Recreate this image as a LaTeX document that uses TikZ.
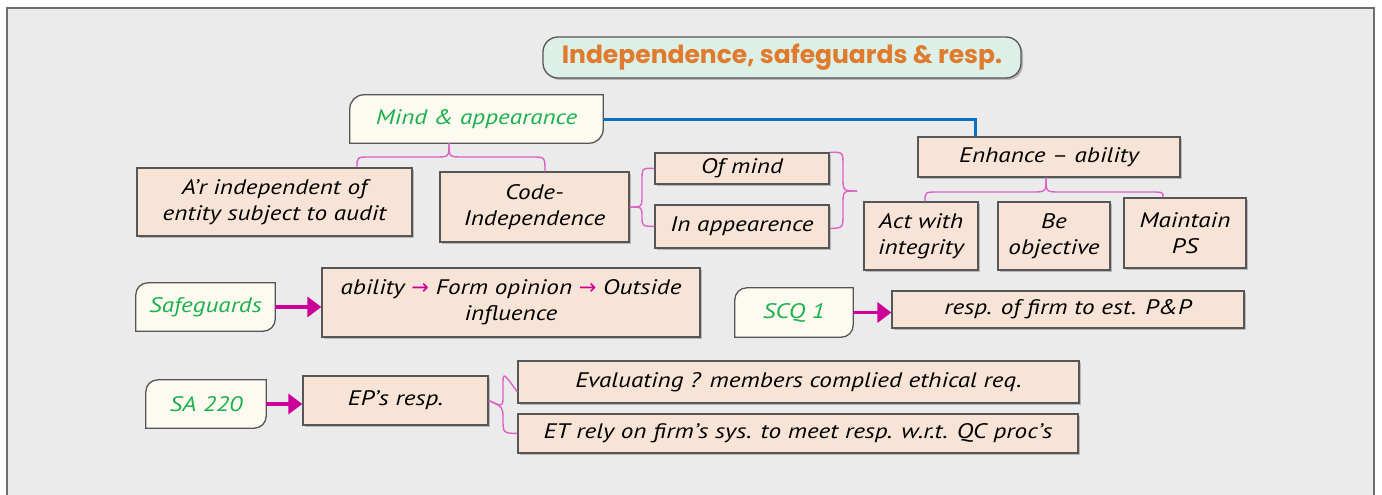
\documentclass[tikz,border=0pt]{standalone}
\usepackage{fontspec}
\setmainfont{PT Sans}
\newfontfamily\hand[FakeStretch=1.2]{PT Sans}
\newfontfamily\titlefont{Poppins}
\newfontfamily\arrowfont{DejaVu Sans}
\usetikzlibrary{shadows,arrows.meta,calc}
\definecolor{bgc}{HTML}{EBEBEB}
\definecolor{framec}{HTML}{6E6E6E}
\definecolor{peach}{HTML}{F8E4D7}
\definecolor{cream}{HTML}{FDFBF0}
\definecolor{greentx}{HTML}{1DB04E}
\definecolor{bordc}{HTML}{565656}
\definecolor{bracec}{HTML}{DD62C6}
\definecolor{magc}{HTML}{CC0099}
\definecolor{bluec}{HTML}{0A70C2}
\definecolor{titlefill}{HTML}{DDF0E8}
\definecolor{orangetx}{HTML}{E07A2C}
\pgfdeclarelayer{back}
\pgfdeclarelayer{mid}
\pgfsetlayers{back,mid,main}
\begin{document}
\begin{tikzpicture}[x=1pt,y=-1pt,
  sz/.style 2 args={minimum width=#1, minimum height=#2},
  peachbox/.style={draw=bordc, line width=1.3pt, fill=peach, inner sep=0pt, align=center,
    font=\hand\itshape\fontsize{21}{26}\selectfont,
    drop shadow={shadow xshift=2pt, shadow yshift=-2pt, opacity=0.22, fill=black}},
  creamtext/.style={inner sep=0pt, align=center, text=greentx,
    font=\hand\itshape\fontsize{21}{26}\selectfont},
  creamshape/.style={draw=bordc, line width=1.3pt, fill=cream},
  creamshadow/.style={fill=black, opacity=0.22, draw=none},
  titlebox/.style={draw=bordc, line width=1.3pt, fill=titlefill, rounded corners=15pt,
    inner sep=0pt, text=orangetx, font=\titlefont\bfseries\fontsize{25}{30}\selectfont,
    drop shadow={shadow xshift=2pt, shadow yshift=-2pt, opacity=0.22, fill=black}},
  bracel/.style={draw=bracec, line width=1.4pt},
  magarrow/.style={draw=magc, line width=3.5pt, -{Triangle[length=14pt,width=20pt]}, fill=magc},
  blueline/.style={draw=bluec, line width=3pt},
]
\useasboundingbox (0,0) rectangle (1382,495);
\begin{pgfonlayer}{back}
\fill[white] (0,0) rectangle (1382,495);
\draw[fill=bgc, draw=framec, line width=2pt] (7,8) rectangle (1374,520);
\end{pgfonlayer}

% title
\node[titlebox, sz={478}{41}] (title) at (782,57.5) {Independence, safeguards \& resp.};

% cream boxes (text nodes; shapes drawn on mid layer)
\node[creamtext, sz={253}{48}] (mind) at (476.5,119) {Mind \& appearance};
\node[creamtext, sz={139}{48}] (safe) at (205.5,307) {Safeguards};
\node[creamtext, sz={118}{49}] (scq) at (794,312.5) {SCQ 1};
\node[creamtext, sz={120}{48}] (sa) at (206,404) {SA 220};

\newcommand\creamshp[3]{% name, radius, style
  \path[#3] (#1.south west) -- ([yshift=-#2]#1.north west)
    arc[start angle=180,end angle=90,radius=#2] -- (#1.north east)
    -- ([yshift=#2]#1.south east)
    arc[start angle=0,end angle=-90,radius=#2] -- cycle;}
\begin{pgfonlayer}{mid}
\foreach \n/\r in {mind/14pt,safe/12pt,scq/12pt,sa/12pt}{
  \begin{scope}[xshift=2pt,yshift=-2pt]\creamshp{\n}{\r}{creamshadow}\end{scope}
  \creamshp{\n}{\r}{creamshape}
}
\end{pgfonlayer}

% peach boxes
\node[peachbox, sz={275}{68}] (ar) at (274.5,202) {A’r independent of\\entity subject to audit};
\node[peachbox, sz={189}{70}] (code) at (534.5,207) {Code-\\Independence};
\node[peachbox, sz={174}{31}] (ofmind) at (742,168.5) {Of mind};
\node[peachbox, sz={174}{43}] (inapp) at (742,226.5) {In appearence};
\node[peachbox, sz={262}{40}] (enh) at (1049,157) {Enhance – ability};
\node[peachbox, sz={114}{68}] (act) at (921,236) {Act with\\integrity};
\node[peachbox, sz={112}{68}] (beobj) at (1054,236) {Be\\objective};
\node[peachbox, sz={122}{70}] (maint) at (1185,233) {Maintain\\PS};
\node[peachbox, sz={378}{69}] (abil) at (511,302.5) {ability {\arrowfont\color{magc}→} Form opinion {\arrowfont\color{magc}→} Outside\\influence};
\node[peachbox, sz={352}{37}] (firm) at (1068,309.5) {resp. of firm to est. P\&P};
\node[peachbox, sz={185}{49}] (ep) at (395.5,400.5) {EP’s resp.};
\node[peachbox, sz={561}{42}] (eval) at (798.5,382) {Evaluating ? members complied ethical req.};
\node[peachbox, sz={560}{39}] (et) at (798,433.5) {ET rely on firm’s sys. to meet resp. w.r.t. QC proc’s};

% blue connector
\draw[blueline] (mind.east) -| ([xshift=58pt]enh.north west);

% braces
\coordinate (mindB) at ([xshift=-27.5pt]mind.south);
\coordinate (arTop) at ([xshift=82.5pt]ar.north);
\coordinate (codeTop) at ([xshift=10.5pt]code.north);
\draw[bracel] (mindB) .. controls (449,157) .. (435,157) -- (370,157)
  .. controls (357,157) .. (arTop);
\draw[bracel] (mindB) .. controls (449,157) .. (463,157) -- (532,157)
  .. controls (545,157) .. (codeTop);

\draw[bracel] (code.east) .. controls (642,207) .. (642,195) -- (642,181)
  .. controls (642,168) .. (ofmind.west);
\draw[bracel] (code.east) .. controls (642,207) .. (642,217)
  .. controls (642,226) .. (inapp.west);

\coordinate (rbTop) at (ofmind.north east);
\coordinate (rbBot) at ([yshift=-2pt]inapp.east);
\coordinate (rbTip) at (857,191);
\draw[bracel] (rbTop) .. controls (843,152) .. (843,166) -- (843,177)
  .. controls (843,191) .. (rbTip);
\draw[bracel] (rbTip) .. controls (843,191) .. (843,204) -- (843,214)
  .. controls (843,228) .. (rbBot);

\coordinate (enhB) at ([xshift=-3pt]enh.south);
\coordinate (actTop) at ([xshift=4pt]act.north);
\coordinate (maintTop) at ([xshift=-22pt]maint.north);
\draw[bracel] (enhB) .. controls (1046,192) .. (1032,192) -- (938,192)
  .. controls (925,192) .. (actTop);
\draw[bracel] (enhB) .. controls (1046,192) .. (1060,192) -- (1150,192)
  .. controls (1163,192) .. (maintTop);

\coordinate (evalL) at ([yshift=-10pt]eval.west);
\coordinate (etL) at ([yshift=0pt]et.west);
\draw[bracel] (ep.east) .. controls (503,407) .. (503,395) -- (503,385)
  .. controls (503,372) .. (evalL);
\draw[bracel] (ep.east) .. controls (503,407) .. (503,419)
  .. controls (503,433) .. (etL);

% magenta arrows
\draw[magarrow] (safe.east) -- (abil.west |- safe.east);
\draw[magarrow] (scq.east) -- (firm.west |- scq.east);
\draw[magarrow] (sa.east) -- (ep.west |- sa.east);
\end{tikzpicture}
\end{document}
